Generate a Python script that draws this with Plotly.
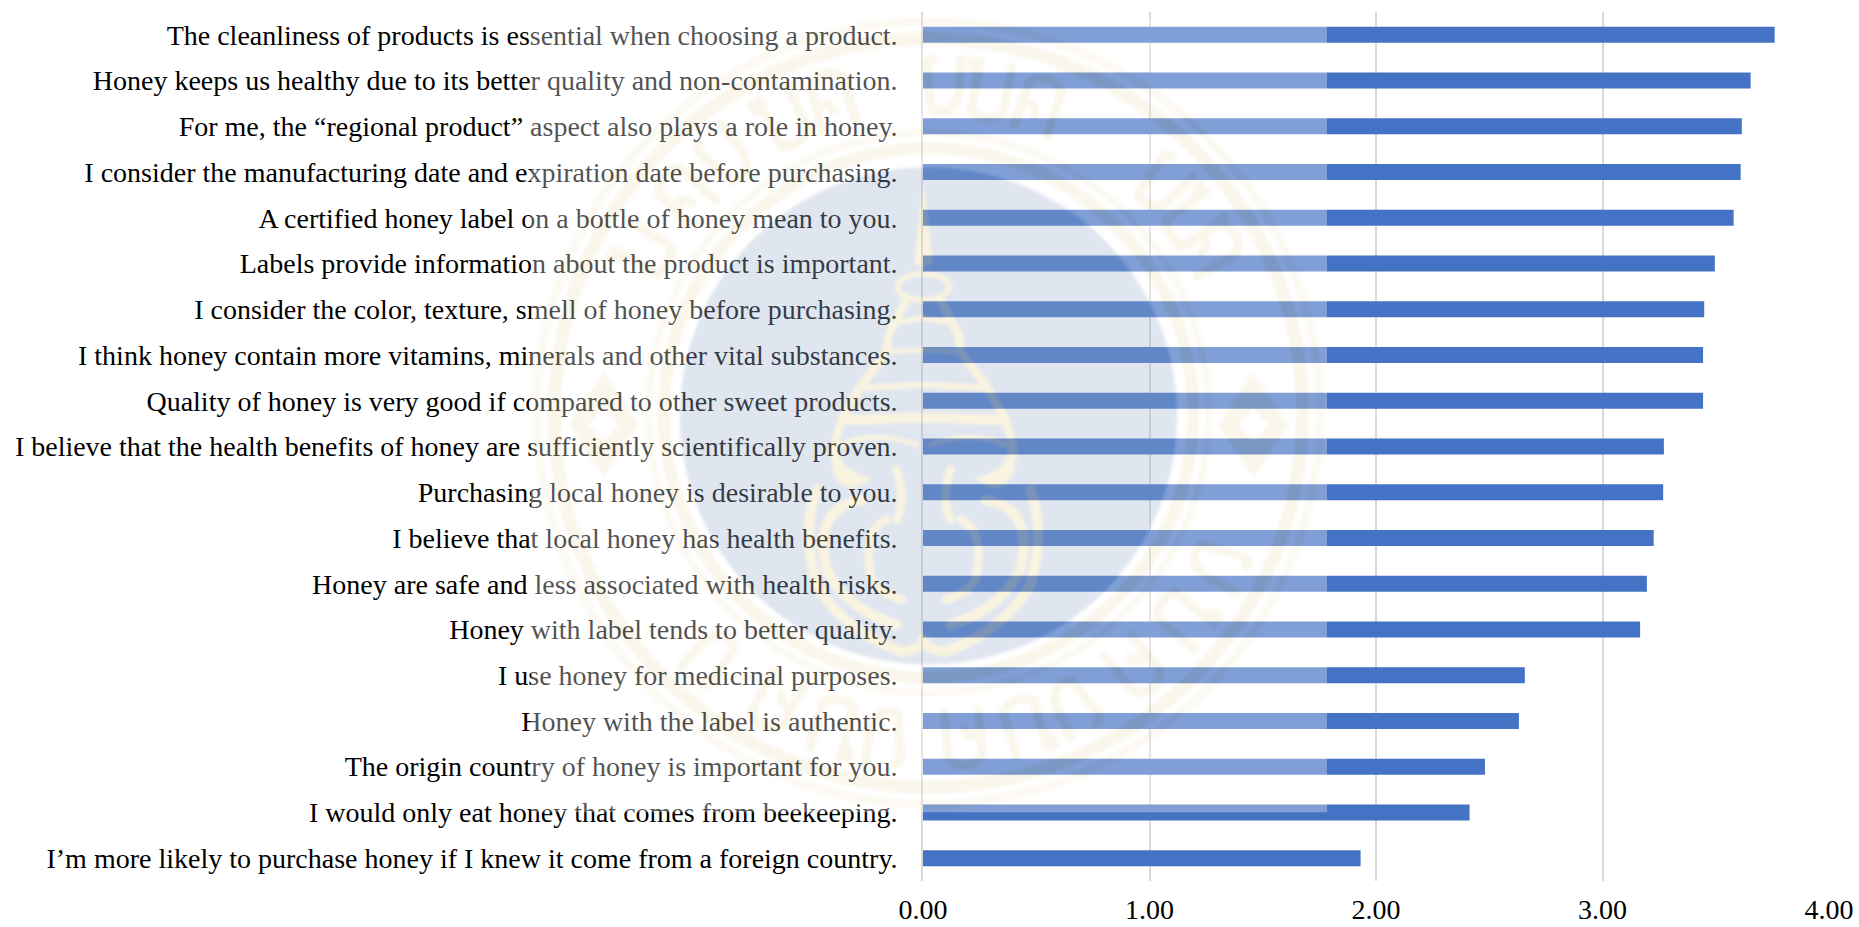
import base64
import math
import plotly.graph_objects as go

# Survey statements, listed from the highest mean score to the lowest
statements = [
    "The cleanliness of products is essential when choosing a product.",
    "Honey keeps us healthy due to its better quality and non-contamination.",
    "For me, the “regional product” aspect also plays a role in honey.",
    "I consider the manufacturing date and expiration date before purchasing.",
    "A certified honey label on a bottle of honey mean to you.",
    "Labels provide information about the product is important.",
    "I consider the color, texture, smell of honey before purchasing.",
    "I think honey contain more vitamins, minerals and other vital substances.",
    "Quality of honey is very good if compared to other sweet products.",
    "I believe that the health benefits of honey are sufficiently scientifically proven.",
    "Purchasing local honey is desirable to you.",
    "I believe that local honey has health benefits.",
    "Honey are safe and less associated with health risks.",
    "Honey with label tends to better quality.",
    "I use honey for medicinal purposes.",
    "Honey with the label is authentic.",
    "The origin country of honey is important for you.",
    "I would only eat honey that comes from beekeeping.",
    "I’m more likely to purchase honey if I knew it come from a foreign country.",
]
mean_scores = [3.76, 3.654, 3.615, 3.61, 3.579, 3.496, 3.449, 3.444, 3.444, 3.271,
               3.268, 3.226, 3.196, 3.166, 2.657, 2.631, 2.481, 2.413, 1.932]
score_ticks = [0, 1, 2, 3, 4]
score_tick_labels = ["0.00", "1.00", "2.00", "3.00", "4.00"]

PAGE_W, PAGE_H = 1859, 927
LEFT, RIGHT, TOP, BOTTOM = 922.5, 29.7, 12, 45.5
PLOT_W = PAGE_W - LEFT - RIGHT
PLOT_H = PAGE_H - TOP - BOTTOM

# University seal laid over the chart as a translucent vector stamp
SEAL_X0, SEAL_Y0, SEAL_X1, SEAL_Y1 = 530, 18, 1327, 813
CX, CY = 928, 413
EMBLEM_X = 923
GOLD = "#f0e5c2"
PALE_GOLD = "#f5edd6"
EMBLEM_GOLD = "#eddc9f"
DISC = "#a1b4d0"


def circle(r, fill, cy=CY):
    return f'<circle cx="{CX}" cy="{cy}" r="{r}" fill="{fill}"/>'


def mirrored(body, axis):
    return body + f'<g transform="translate({2 * axis},0) scale(-1,1)">{body}</g>'


GLYPHS = [
    "M-14,-26 Q-22,-26 -20,-16 L-12,24 M-12,24 Q10,30 14,6 L14,-28",
    "M-16,-28 L-16,22 Q0,32 16,20 L16,-28 M-16,-16 Q-26,-20 -24,-28",
    "M-18,-20 Q0,-36 16,-20 L16,26 M-18,-20 L-18,26 M-18,4 Q-6,-4 -2,10",
]
GLYPH_ANGLES = [3, 11, 20, 46, 54, 60, 118, 129, 141, 154, 163, 174,
                188, 197, 208, 222, 300, 312, 322, 334, 343]


def ring_glyphs():
    parts = []
    for i, ang in enumerate(GLYPH_ANGLES):
        t = math.radians(ang)
        gx = CX + 327 * math.sin(t)
        gy = CY - 327 * math.cos(t)
        parts.append(
            f'<path transform="translate({gx:.1f},{gy:.1f}) rotate({ang})" '
            f'd="{GLYPHS[i % 3]}" fill="none" stroke="{GOLD}" stroke-width="9" stroke-linecap="round"/>'
        )
    return "".join(parts)


def stroke(d, w):
    return f'<path d="{d}" fill="none" stroke="{EMBLEM_GOLD}" stroke-width="{w}" stroke-linecap="round"/>'


emblem = mirrored(
    # spire and its tiers
    f'<path d="M923,182 L932,262 L923,268 Z" fill="{EMBLEM_GOLD}"/>'
    f'<ellipse cx="923" cy="287" rx="26" ry="13" fill="none" stroke="{EMBLEM_GOLD}" stroke-width="5"/>'
    + stroke("M940,300 L958,335 L960,352 L985,385 L1005,420 L1012,445", 8)
    + stroke("M923,318 L945,322", 5)
    + stroke("M923,350 L958,352", 4)
    + stroke("M923,385 L985,388", 6)
    + stroke("M923,418 L1000,420", 10)
    + stroke("M930,445 Q970,430 1005,445", 5)
    # flames curling round the lower body
    + stroke("M1012,445 Q1015,470 985,480 Q1000,490 1010,470", 9)
    + stroke("M1030,490 Q1045,530 1030,585 Q1005,630 945,652 Q925,650 923,640", 10)
    + stroke("M985,500 Q1035,510 1020,570 Q1000,610 950,625", 10)
    + stroke("M960,520 Q985,530 975,580 Q965,595 945,600", 8)
    + stroke("M950,470 Q940,500 950,520", 8),
    EMBLEM_X,
)

diamonds = mirrored(
    f'<path d="M1253,372 L1288,425 L1253,478 L1218,425 Z" fill="{GOLD}"/>'
    f'<path d="M1253,408 L1268,425 L1253,442 L1238,425 Z" fill="#ffffff"/>',
    CX,
)

seal_svg = (
    f'<svg xmlns="http://www.w3.org/2000/svg" width="{SEAL_X1 - SEAL_X0}" height="{SEAL_Y1 - SEAL_Y0}" '
    f'viewBox="{SEAL_X0} {SEAL_Y0} {SEAL_X1 - SEAL_X0} {SEAL_Y1 - SEAL_Y0}">'
    '<defs><filter id="soft" x="-5%" y="-5%" width="110%" height="110%">'
    '<feGaussianBlur stdDeviation="1.6"/></filter></defs>'
    f'<rect x="{SEAL_X0}" y="{SEAL_Y0}" width="{SEAL_X1 - SEAL_X0}" height="{SEAL_Y1 - SEAL_Y0}" fill="#ffffff"/>'
    '<g filter="url(#soft)">'
    + circle(396, PALE_GOLD) + circle(388, "#ffffff") + circle(381, GOLD) + circle(368, "#ffffff")
    + circle(284, PALE_GOLD) + circle(277, "#ffffff") + circle(271, GOLD) + circle(259, "#ffffff")
    + circle(249, DISC, cy=416)
    + ring_glyphs() + diamonds + emblem
    + "</g></svg>"
)
seal_src = "data:image/svg+xml;base64," + base64.b64encode(seal_svg.encode()).decode()

fig = go.Figure(
    go.Bar(
        x=mean_scores,
        y=statements,
        orientation="h",
        marker=dict(color="#4472C4", line=dict(width=0)),
        hoverinfo="x+y",
    )
)

fig.update_layout(
    width=PAGE_W,
    height=PAGE_H,
    autosize=False,
    margin=dict(l=LEFT, r=RIGHT, t=TOP, b=BOTTOM, pad=0),
    paper_bgcolor="#ffffff",
    plot_bgcolor="#ffffff",
    bargap=0.65,
    showlegend=False,
    font=dict(family="Liberation Serif", color="#000000", size=28),
    images=[
        dict(
            source=seal_src,
            xref="paper",
            yref="paper",
            x=(SEAL_X0 - LEFT) / PLOT_W,
            y=1 - (SEAL_Y0 - TOP) / PLOT_H,
            sizex=(SEAL_X1 - SEAL_X0) / PLOT_W,
            sizey=(SEAL_Y1 - SEAL_Y0) / PLOT_H,
            xanchor="left",
            yanchor="top",
            sizing="stretch",
            opacity=0.32,
            layer="above",
        )
    ],
)
fig.update_xaxes(
    range=[0, 4],
    tickvals=score_ticks,
    ticktext=score_tick_labels,
    showgrid=True,
    gridcolor="#d9d9d9",
    gridwidth=1.6,
    zeroline=False,
    showline=False,
    ticks="",
    ticklabelstandoff=9,
    tickfont=dict(family="Liberation Serif", size=28, color="#000000"),
    automargin=False,
)
fig.update_yaxes(
    type="category",
    categoryorder="array",
    categoryarray=statements,
    autorange="reversed",
    showgrid=False,
    zeroline=False,
    showline=True,
    linecolor="#d9d9d9",
    linewidth=1.6,
    ticks="",
    ticklabelstandoff=18,
    tickfont=dict(family="Liberation Serif", size=28, color="#000000"),
    automargin=False,
)

fig.write_html("out.html")
